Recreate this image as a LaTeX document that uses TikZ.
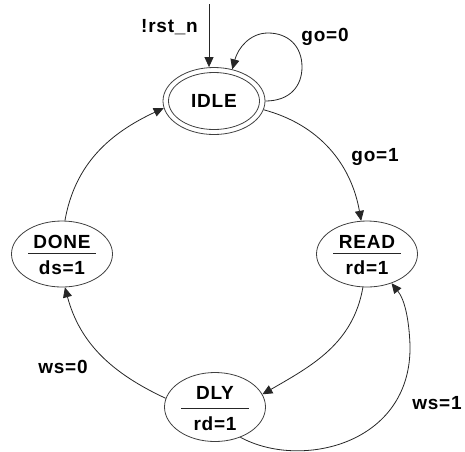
\documentclass[tikz,border=0pt]{standalone}
\usepackage{fontspec}
\setmainfont{Liberation Sans}[LetterSpace=4]
\usetikzlibrary{arrows.meta,shapes.geometric}

\begin{document}
\begin{tikzpicture}[x=1pt,y=-1pt,
  every node/.style={font=\bfseries\fontsize{19}{21}\selectfont},
  state/.style={ellipse,draw=black!75,line width=0.8pt,inner sep=0pt,
                minimum width=101pt,minimum height=66pt},
  arr/.style={draw=black!85,line width=0.8pt,
              -{Triangle[length=10pt,width=9pt]}},
  divider/.style={draw=black!85,line width=0.8pt},
  lab/.style={inner sep=0pt}]

\useasboundingbox (0,0) rectangle (465,451);

% states (yshift is measured upwards on the page)
\node[state,minimum width=102pt,minimum height=67pt] (idle) at (214,101) {};
\node[state,minimum width=91pt,minimum height=57pt] (idlein) at (idle) {};
\node[lab] at (idle) {IDLE};

\node[state] (read) at (367,254) {};
\node[lab] at ([yshift=12pt]read.center) {READ};
\draw[divider] ([xshift=-34pt,yshift=1pt]read.center) -- ([xshift=34pt,yshift=1pt]read.center);
\node[lab] at ([yshift=-14pt]read.center) {rd=1};

\node[state,minimum height=69pt] (dly) at (215,407) {};
\node[lab] at ([yshift=14pt]dly.center) {DLY};
\draw[divider] ([xshift=-34pt,yshift=-1pt]dly.center) -- ([xshift=34pt,yshift=-1pt]dly.center);
\node[lab] at ([yshift=-17pt]dly.center) {rd=1};

\node[state] (done) at (62,254) {};
\node[lab] at ([yshift=12pt]done.center) {DONE};
\draw[divider] ([xshift=-34pt,yshift=1pt]done.center) -- ([xshift=34pt,yshift=1pt]done.center);
\node[lab] at ([yshift=-14pt]done.center) {ds=1};

% reset entry
\coordinate (rst) at (209,4);
\draw[arr] (rst) -- (rst |- idle.north);
\node[lab,anchor=east] at (198,27) {!rst\_n};

% transitions
\draw[arr] (idle.east) .. controls (290,101) and (302,86) .. (302,67)
  .. controls (302,46) and (288,33) .. (268,33)
  .. controls (250,33) and (238,48) .. (idle.60);
\node[lab] at (325,37) {go=0};

\draw[arr] (idle.-10) to[out=-15,in=100] (read.100);
\node[lab] at (375,157) {go=1};

\draw[arr] (read.-97) to[out=-100,in=30] (dly.15);

\draw[arr] (dly.-50) .. controls (300,470) and (412,445) .. (410,345)
  .. controls (409,320) and (405,300) .. (read.-50);
\node[lab] at (437,403) {ws=1};

\draw[arr] (dly.170) to[out=155,in=-75] (done.-85);
\node[lab] at (63,367) {ws=0};

\draw[arr] (done.85) to[out=80,in=-155] (idle.188);

\end{tikzpicture}
\end{document}
